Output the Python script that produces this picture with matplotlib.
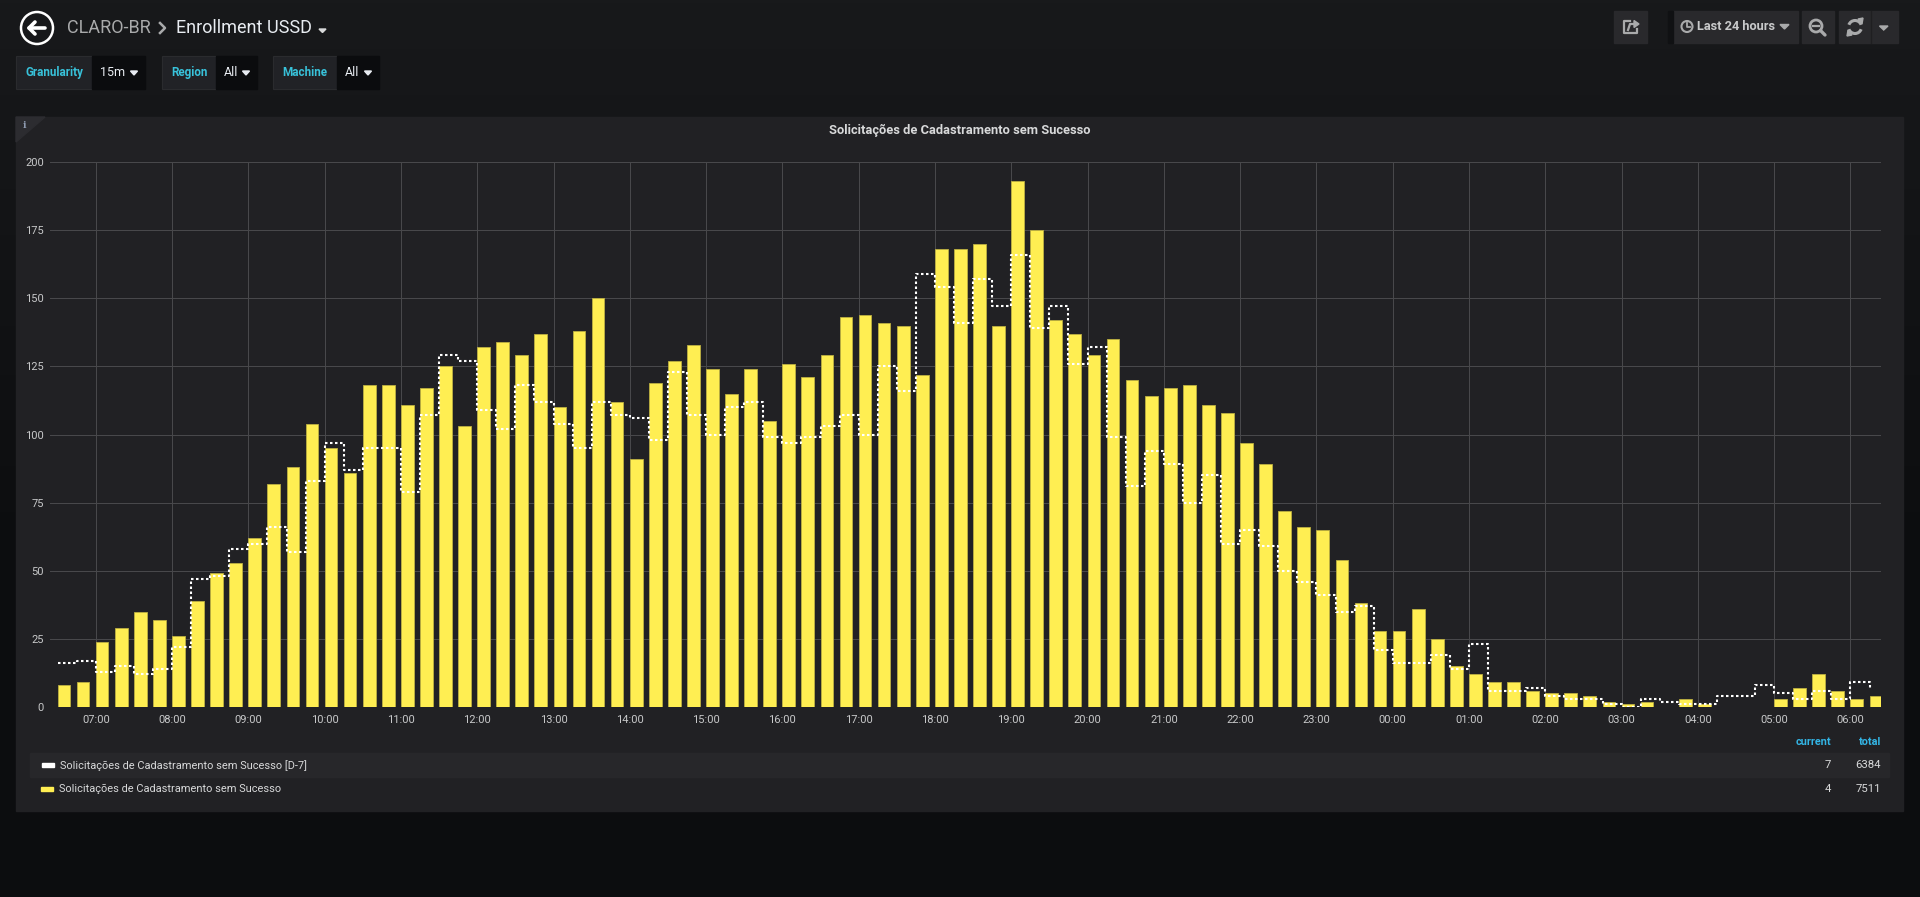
import numpy as np
import pandas as pd
import matplotlib.pyplot as plt
import matplotlib.dates as mdates
from matplotlib.patches import Rectangle, Polygon, Circle, Arc
from matplotlib.colors import LinearSegmentedColormap

plt.rcParams['font.family'] = ['Roboto', 'DejaVu Sans']

# 15 minute buckets, last 24 hours
times = pd.date_range('2018-07-09 06:30', periods=96, freq='15min')

# Solicitações de Cadastramento sem Sucesso (today)
failed = [8, 9, 24, 29, 35, 32, 26, 39, 49, 53, 62, 82, 88, 104, 95, 86,
          118, 118, 111, 117, 125, 103, 132, 134, 129, 137, 110, 138, 150, 112, 91, 119,
          127, 133, 124, 115, 124, 105, 126, 121, 129, 143, 144, 141, 140, 122, 168, 168,
          170, 140, 193, 175, 142, 137, 129, 135, 120, 114, 117, 118, 111, 108, 97, 89,
          72, 66, 65, 54, 38, 28, 28, 36, 25, 15, 12, 9, 9, 6, 5, 5,
          4, 2, 1, 2, 0, 3, 1, 0, 0, 0, 3, 7, 12, 6, 3, 4]

# same series 7 days before
failed_d7 = [16, 17, 13, 15, 12, 14, 22, 47, 48, 58, 60, 66, 57, 83, 97, 87,
             95, 95, 79, 107, 129, 127, 109, 102, 118, 112, 104, 95, 112, 107, 106, 98,
             123, 107, 100, 110, 112, 99, 97, 99, 103, 107, 100, 125, 116, 159, 154, 141,
             157, 147, 166, 139, 147, 126, 132, 99, 81, 94, 89, 75, 85, 60, 65, 59,
             50, 46, 41, 35, 37, 21, 16, 16, 19, 14, 23, 6, 6, 7, 4, 3,
             3, 1, 0, 3, 2, 1, 1, 4, 4, 8, 5, 3, 6, 3, 9, 7]

series_names = ['Solicitações de Cadastramento sem Sucesso [D-7]',
                'Solicitações de Cadastramento sem Sucesso']
panel_title = 'Solicitações de Cadastramento sem Sucesso'

YELLOW = '#FFEE52'
BLUE = '#33b5e5'
TEXT = '#d8d9da'
PANEL = '#212124'

fig = plt.figure(figsize=(19.2, 8.97), dpi=100)

# page background in pixel coordinates
bg = fig.add_axes([0, 0, 1, 1])
bg.set_xlim(0, 1920)
bg.set_ylim(897, 0)
bg.axis('off')
cmap = LinearSegmentedColormap.from_list('page', ['#18191b', '#0c0d0f'])
grad = np.clip(np.linspace(0, 1.6, 897), 0, 1)
bg.imshow(grad[:, None], extent=(0, 1920, 897, 0), aspect='auto', cmap=cmap, vmin=0, vmax=1)

# ---- header ----
bg.add_patch(Circle((37, 28), 16, fill=False, ec='white', lw=1.8))
bg.plot([29, 45], [28, 28], color='white', lw=2.6, solid_capstyle='round')
bg.plot([35, 29, 35], [22, 28, 34], color='white', lw=2.6, solid_capstyle='round', solid_joinstyle='round')
bg.text(67, 28, 'CLARO-BR', color='#a9aaab', fontsize=13, va='center')
bg.plot([160, 165, 160], [23, 28, 33], color='#a9aaab', lw=1.8)
bg.text(176, 28, 'Enrollment USSD', color='#e9edf2', fontsize=13, va='center')
bg.add_patch(Polygon([[319, 29], [326, 29], [322.5, 32.5]], color='#d8d9da'))

# template variables
variables = [('Granularity', '15m', 16, 92, 145),
             ('Region', 'All', 162, 216, 257),
             ('Machine', 'All', 273, 337, 379)]
for label, value, x0, x1, x2 in variables:
    bg.add_patch(Rectangle((x0, 56), x1 - x0, 33, color='#212226', ec='#2a2b2e', lw=0.8))
    bg.add_patch(Rectangle((x1, 56), x2 - x1, 33, color='#0b0c0e'))
    bg.text((x0 + x1) / 2, 72.5, label, color='#38c2da', fontsize=8.4, fontweight='bold',
            ha='center', va='center')
    bg.text(x1 + 8, 73, value, color='#e9edf2', fontsize=9, va='center')
    cx = x2 - 11
    bg.add_patch(Polygon([[cx - 3.5, 71], [cx + 3.5, 71], [cx, 75]], color='#e9edf2'))

# right hand buttons
btn = '#29292c'
for x0, x1 in [(1614, 1647), (1673, 1798), (1802, 1834), (1839, 1898)]:
    bg.add_patch(Rectangle((x0, 11), x1 - x0, 32, color=btn))
bg.plot([1870.5, 1870.5], [11, 43], color='#1f1f21', lw=1)
bg.add_patch(Rectangle((1668, 11), 5, 32, color='#101113'))
icon = '#a9aaab'
# share
bg.plot([1630, 1624, 1624, 1637, 1637], [21, 21, 33, 33, 29], color=icon, lw=1.6)
bg.plot([1628, 1630, 1637], [30, 24, 24], color=icon, lw=1.6)
bg.add_patch(Polygon([[1634, 20.5], [1639, 24], [1634, 27.5]], color=icon))
# time picker
bg.add_patch(Circle((1687, 26.5), 5.5, fill=False, ec=icon, lw=1.5))
bg.plot([1687, 1687, 1690], [23.5, 26.8, 26.8], color=icon, lw=1.3)
bg.text(1697, 26.5, 'Last 24 hours', color='#c8c9ca', fontsize=9.2, fontweight='bold', va='center')
bg.add_patch(Polygon([[1780, 24.5], [1789, 24.5], [1784.5, 29]], color=icon))
# zoom out
bg.add_patch(Circle((1816, 26), 6, fill=False, ec=icon, lw=2))
bg.plot([1813, 1819], [26, 26], color=icon, lw=1.6)
bg.plot([1820.5, 1825], [30.5, 35], color=icon, lw=2.4, solid_capstyle='round')
# refresh
bg.add_patch(Arc((1855, 27), 13, 13, theta1=200, theta2=340, ec=icon, lw=2.2))
bg.add_patch(Arc((1855, 27), 13, 13, theta1=20, theta2=160, ec=icon, lw=2.2))
bg.add_patch(Polygon([[1858, 19], [1863, 18], [1862, 24]], color=icon))
bg.add_patch(Polygon([[1852, 35], [1847, 36], [1848, 30]], color=icon))
bg.add_patch(Polygon([[1879.5, 26], [1888, 26], [1883.7, 30]], color=icon))

# ---- panel ----
bg.add_patch(Rectangle((16, 117), 1887, 694, color=PANEL))
bg.add_patch(Polygon([[16, 117], [45, 117], [16, 142]], color='#2c2c30'))
bg.text(24.5, 125, 'i', color='#8e9bb0', fontsize=7, fontweight='bold',
        family='DejaVu Serif', ha='center', va='center')
bg.text(959.5, 130, panel_title, color=TEXT, fontsize=9.3, fontweight='bold',
        ha='center', va='center')

# ---- graph ----
ax = fig.add_axes([50 / 1920, (897 - 707) / 897, 1831 / 1920, 545 / 897])
ax.set_facecolor('none')
x = mdates.date2num(times)
ax.bar(x, failed, width=10 / 1440, align='edge', color=YELLOW,
       edgecolor='#bdb041', linewidth=0.6, zorder=2)
ax.step(x, failed_d7, where='post', color='white', lw=1.5,
        linestyle=(0, (1.2, 1.2)), zorder=3)

start = mdates.date2num(pd.Timestamp('2018-07-09 06:24'))
ax.set_xlim(start, start + 1)
ax.set_ylim(0, 200)
ax.set_yticks(np.arange(0, 201, 25))
ax.xaxis.set_major_locator(mdates.HourLocator())
ax.xaxis.set_major_formatter(mdates.DateFormatter('%H:%M'))
ax.grid(True, color='#48484b', lw=0.75, zorder=0)
ax.set_axisbelow(True)
for s in ax.spines.values():
    s.set_visible(False)
ax.tick_params(axis='both', length=0, labelsize=8, labelcolor='#c8c9ca')
ax.tick_params(axis='x', pad=6)
ax.tick_params(axis='y', pad=4.5)

# ---- legend table ----
bg.text(1831, 742, 'current', color=BLUE, fontsize=7.8, fontweight='bold', ha='right', va='center')
bg.text(1881, 742, 'total', color=BLUE, fontsize=7.8, fontweight='bold', ha='right', va='center')
bg.add_patch(Rectangle((30, 753), 1859, 24, color='#27272a'))
rows = [(series_names[0], failed_d7, 'white', 765.5, 42),
        (series_names[1], failed, YELLOW, 789, 41)]
for name, vals, col, y, mx in rows:
    bg.add_patch(Rectangle((mx, y - 2), 12, 4, color=col))
    bg.text(mx + 18, y, name, color=TEXT, fontsize=7.9, va='center')
    bg.text(1831, y, str(vals[-1]), color=TEXT, fontsize=8.2, ha='right', va='center')
    bg.text(1881, y, str(sum(vals)), color=TEXT, fontsize=8.2, ha='right', va='center')

fig.savefig('out.png', dpi=100, facecolor='#161719')
